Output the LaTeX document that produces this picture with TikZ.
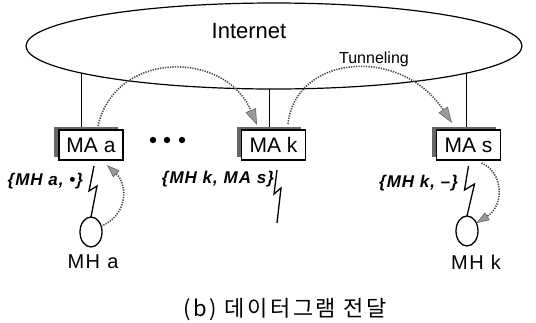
\documentclass[tikz,border=0pt]{standalone}
\usepackage{fontspec}
\setmainfont{Liberation Sans}
\newfontfamily\krfont[LetterSpace=12]{Noto Sans CJK KR}
\newfontfamily\widefont[LetterSpace=8]{Liberation Sans}
\newfontfamily\bindfont[LetterSpace=6]{Liberation Sans}
\usetikzlibrary{shapes.geometric,arrows.meta,shadows}

\begin{document}
\begin{tikzpicture}[x=1pt,y=-1pt,
  every node/.style={inner sep=0pt,outer sep=0pt},
  thin line/.style={line width=1.2pt},
  mabox/.style={draw,line width=1.3pt,fill=white,minimum width=64pt,minimum height=30pt,
    font=\fontsize{21}{24}\selectfont,
    drop shadow={shadow xshift=-5pt,shadow yshift=3pt,fill=black!60,opacity=1}},
  host/.style={draw,ellipse,line width=1.3pt,minimum width=22pt,minimum height=30pt},
  hostname/.style={font=\widefont\fontsize{20}{24}\selectfont},
  binding/.style={font=\bindfont\fontsize{17}{20}\selectfont\bfseries\itshape,anchor=base east},
  tunnel/.style={line width=1.6pt,black!70,dash pattern=on 1.3pt off 1.2pt,
    -{Triangle[length=16pt,width=11pt,fill=black!40,color=black!60,line width=0.6pt]}},
  local/.style={tunnel,-{Triangle[length=13pt,width=9pt,fill=black!40,color=black!60,line width=0.6pt]}},
  radio/.style={line width=1.3pt,line join=miter}]
\useasboundingbox (0,0) rectangle (536,322);

% Internet cloud
\node[draw,ellipse,thin line,minimum width=496pt,minimum height=86pt] (net) at (274,46) {};
\node[font=\fontsize{22}{26}\selectfont] (inet) at (249,31) {Internet};
\node[font=\fontsize{16}{19}\selectfont,anchor=base] (tun) at (374,63) {Tunneling};

% mobility agents
\node[mabox] (maa) at (91,145) {MA a};
\node[mabox] (mak) at (273.5,145) {MA k};
\node[mabox] (mas) at (468.5,145) {MA s};

% links from the agents to the Internet
\draw[thin line] (net.188.5) -- ([yshift=3pt]maa.north -| net.188.5);
\draw[thin line] (net.264.7) -- ([yshift=3pt]mak.north -| net.264.7);
\draw[thin line] (net.352.5) -- ([yshift=3pt]mas.north -| net.352.5);

% ellipsis between agents
\foreach \x in {153,167,182} \fill (\x,140) circle (3.2pt);

% mobile hosts
\node[host] (mha) at (91,232) {};
\node[host] (mhk) at (467,231) {};
\node[hostname] (mhal) at (93,262) {MH a};
\node[hostname] (mhkl) at (476,262) {MH k};

% wireless links
\coordinate (kend) at (277,223);
\draw[radio] ([xshift=3pt,yshift=-6pt]maa.south) -- ++(-5,25) -- ++(8,-5) -- (mha.north);
\draw[radio] ([xshift=3.5pt,yshift=-10pt]mak.south) -- ++(-3,24) -- ++(7,-6) -- (kend);
\draw[radio] ([xshift=0pt,yshift=-6pt]mas.south) -- ++(-4,24) -- ++(10,-6) -- (mhk.north);

% binding entries
\node[binding] (ba) at (83,185) {\{MH a, •\}};
\node[binding] (bk) at (274,183) {\{MH k, MA s\}};
\node[binding] (bs) at (458,187) {\{MH k, –\}};

% tunnelled datagrams
\draw[tunnel] ([xshift=7pt,yshift=4pt]maa.north) .. controls (115,50) and (225,50) .. ([xshift=-16.5pt,yshift=5pt]mak.north);
\draw[tunnel] ([xshift=14.5pt,yshift=6pt]mak.north) .. controls (295,55) and (400,45) .. ([xshift=-16.5pt,yshift=7pt]mas.north);

% local delivery
\draw[local] (mha.30) .. controls (128,215) and (128,185) .. ([xshift=16pt,yshift=-5pt]maa.south);
\draw[local] ([xshift=13pt,yshift=-3pt]mas.south) .. controls (503,172) and (505,205) .. (mhk.40);

% caption
\node[font=\krfont\fontsize{22}{26}\selectfont] (cap) at (285,310) {(b) 데이터그램 전달};
\end{tikzpicture}
\end{document}
